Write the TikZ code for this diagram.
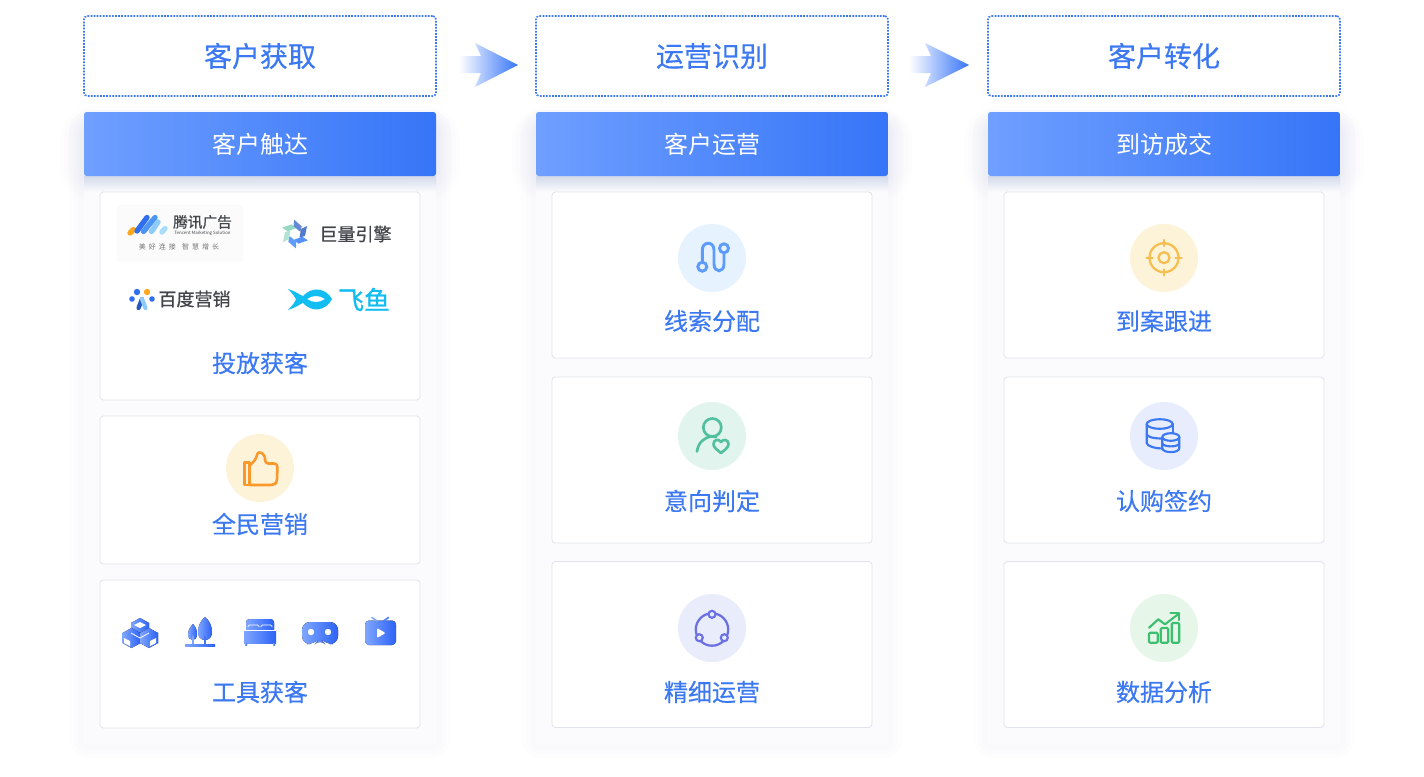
\documentclass[tikz,border=0pt]{standalone}
\usepackage{fontspec}
\setmainfont{Noto Sans CJK SC}
\newfontfamily\cjkmid[FakeBold=0.35]{Noto Sans CJK SC}
\newfontfamily\cjklogo[FakeBold=0.8]{Noto Sans CJK SC}
\usetikzlibrary{positioning}

\definecolor{mainblue}{HTML}{3B78F2}
\definecolor{headleft}{HTML}{6F9FFF}
\definecolor{headright}{HTML}{3675F8}
\definecolor{cardline}{HTML}{E1E3EB}
\definecolor{panelback}{HTML}{FBFBFD}
\definecolor{panelshade}{HTML}{D3DAEA}
\definecolor{softshadow}{HTML}{6A7FC8}
\definecolor{logodark}{HTML}{45464B}
\definecolor{fishblue}{HTML}{12BDF2}
\definecolor{toolleft}{HTML}{7FA6FF}
\definecolor{toolright}{HTML}{2C62F6}
\definecolor{logoorange}{HTML}{FBA81E}
\definecolor{logoblue}{HTML}{2F6EEF}
\definecolor{logomid}{HTML}{4D95F5}
\definecolor{logolight}{HTML}{8CCBFB}
\definecolor{logopale}{HTML}{A8DCFB}
\definecolor{thumbline}{HTML}{FA982A}
\definecolor{warmback}{HTML}{FDF3D9}
\definecolor{routeline}{HTML}{5F9BF9}
\definecolor{routeback}{HTML}{E6F3FF}
\definecolor{personline}{HTML}{52BF9E}
\definecolor{personback}{HTML}{E1F4EE}
\definecolor{ringline}{HTML}{6B70E2}
\definecolor{ringback}{HTML}{E9ECFB}
\definecolor{targetline}{HTML}{F5BE4F}
\definecolor{dbback}{HTML}{E7EDFD}
\definecolor{chartline}{HTML}{3CBF6E}
\definecolor{chartback}{HTML}{E6F7EA}

\tikzset{
  titlebox/.style={draw=mainblue, line width=1.2pt, dash pattern=on 1.3pt off 1pt, rounded corners=2.5pt,
    minimum width=264pt, minimum height=60pt, inner sep=0pt, text=mainblue, font=\cjkmid\fontsize{21pt}{24pt}\selectfont},
  headbox/.style={shade, left color=headleft, right color=headright, rounded corners=2pt,
    minimum width=264pt, minimum height=48pt, inner sep=0pt, text=white, font=\fontsize{18pt}{22pt}\selectfont},
  cardbox/.style={draw=cardline, fill=white, line width=0.6pt, rounded corners=2.5pt, minimum width=240pt, inner sep=0pt},
  cardtext/.style={text=mainblue, inner sep=0pt, font=\cjkmid\fontsize{18pt}{22pt}\selectfont},
  iconback/.style={circle, minimum size=51pt, inner sep=0pt},
  logotext/.style={text=logodark, inner sep=0pt, font=\cjklogo\fontsize{13.5pt}{16pt}\selectfont},
  tool/.style={shade, left color=toolleft, right color=toolright},
}

\begin{document}
\begin{tikzpicture}[x=0.75pt,y=-0.75pt]

\useasboundingbox (0,0) rectangle (1424,776);
\fill[white] (0,0) rectangle (1424,776);

% soft shadows and panels
\foreach \cx in {84,536,988} {
  \foreach \d in {5,10,15} {
    \fill[softshadow, opacity=0.012, rounded corners=\d+2] ({\cx-\d},{125-\d}) rectangle ({\cx+352+\d},{744+\d});
  }
  \foreach \d in {4,8,...,24} {
    \fill[softshadow, opacity=0.012, rounded corners=\d+2] ({\cx-\d},{130-\d}) rectangle ({\cx+352+\d},{176+\d});
  }
  \fill[panelback] (\cx,176) rectangle ({\cx+352},744);
  \shade[top color=panelshade, bottom color=panelback] (\cx,176) rectangle ({\cx+352},192);
}

% titles
\node (gain) [titlebox] at (260,56) {客户获取};
\node (identify) [titlebox] at (712,56) {运营识别};
\node (convert) [titlebox] at (1164,56) {客户转化};

% block arrows
\shade[left color=white, middle color=headleft!85!white, right color=headright]
  (459,56) -- (481,56) -- (475,43) -- (518,65) -- (475,87) -- (481,73) -- (459,73) -- cycle;
\shade[left color=white, middle color=headleft!85!white, right color=headright]
  (909,56) -- (931,56) -- (925,43) -- (969,65) -- (925,87) -- (931,73) -- (909,73) -- cycle;

% headers
\node (reach) [headbox] at (260,144) {\raisebox{-0.75pt}{客户触达}};
\node (operate) [headbox] at (712,144) {\raisebox{-0.75pt}{客户运营}};
\node (deal) [headbox] at (1164,144) {\raisebox{-0.75pt}{到访成交}};

% cards
\node (ad) [cardbox, minimum height=156pt] at (260,296) {};
\node (staff) [cardbox, minimum height=111pt] at (260,490) {};
\node (tools) [cardbox, minimum height=111pt] at (260,654) {};
\node (leads) [cardbox, minimum height=124.5pt] at (712,275) {};
\node (intent) [cardbox, minimum height=124.5pt] at (712,460) {};
\node (fine) [cardbox, minimum height=124.5pt] at (712,644.5) {};
\node (visit) [cardbox, minimum height=124.5pt] at (1164,275) {};
\node (sign) [cardbox, minimum height=124.5pt] at (1164,460) {};
\node (data) [cardbox, minimum height=124.5pt] at (1164,644.5) {};

% card labels
\node (adtext) [cardtext] at (260,363) {投放获客};
\node (stafftext) [cardtext] at (260,524) {全民营销};
\node (toolstext) [cardtext] at (260,692) {工具获客};
\node (leadstext) [cardtext] at (712,321) {线索分配};
\node (intenttext) [cardtext] at (712,501) {意向判定};
\node (finetext) [cardtext] at (712,692) {精细运营};
\node (visittext) [cardtext] at (1164,321) {到案跟进};
\node (signtext) [cardtext] at (1164,501) {认购签约};
\node (datatext) [cardtext] at (1164,692) {数据分析};

% round icon backgrounds
\node (thumbcircle) [iconback, fill=warmback] at (260,468) {};
\node (routecircle) [iconback, fill=routeback] at (712,258) {};
\node (personcircle) [iconback, fill=personback] at (712,436) {};
\node (ringcircle) [iconback, fill=ringback] at (712,628) {};
\node (targetcircle) [iconback, fill=warmback] at (1164,258) {};
\node (dbcircle) [iconback, fill=dbback] at (1164,436) {};
\node (chartcircle) [iconback, fill=chartback] at (1164,628) {};

% tencent logo
\fill[black!1.5] (117,205) rectangle (243,262);
\draw[line width=4pt, line cap=round, logoorange] (130,233) -- (133.5,229.5);
\draw[line width=4pt, line cap=round, logoblue] (137,231) -- (147,217.5);
\draw[line width=4pt, line cap=round, logomid] (143.5,231.5) -- (155,217.5);
\draw[line width=4pt, line cap=round, logolight] (151.5,231.5) -- (158,222);
\draw[line width=4pt, line cap=round, logopale] (162,232) -- (165,228.5);
\node (tencent) [logotext, font=\cjklogo\fontsize{11pt}{13pt}\selectfont] at (202.5,222) {腾讯广告};
\node (tencentsub) [logotext, font=\fontsize{3.3pt}{4pt}\selectfont] at (202.5,233) {Tencent Marketing Solution};
\node (tencentslogan) [logotext, text=black!55, font=\fontsize{5.2pt}{6pt}\selectfont] at (179,247) {美\ \ 好\ \ 连\ \ 接\ \ \ \ 智\ \ 慧\ \ 增\ \ 长};

% ocean engine logo
\foreach \a/\c in {30/personline!60!white, 90/personline!45!white, 150/routeline, 210/routeline!80!logoblue, 270/logoblue!80!black!80!white, 330/logoblue!70!gray!85!white} {
  \fill[\c, rotate around={\a:(295,234)}] (287,222) -- (297,224) -- (298.5,229.5) -- (290,228) -- cycle;
}
\node (engine) [logotext] at (355.5,234) {巨量引擎};

% baidu logo
\fill[logoblue] (137,292) circle (3.2);
\fill[logoorange] (147,292) circle (3.2);
\fill[logoblue] (132,299) circle (2.8);
\fill[logoblue] (152,299) circle (2.8);
\draw[line width=3.2pt, line cap=round, logoblue!80!black] (138.5,308) -- (142,299);
\draw[line width=3.2pt, line cap=round, logolight] (145.5,308) -- (142,299);
\node (baidu) [logotext] at (194.5,299) {百度营销};

% feiyu logo
\fill[fishblue, even odd rule] (288,289) .. controls (297,292) and (300,295) .. (303,296)
  .. controls (312,286) and (326,288) .. (332,299) .. controls (326,311) and (312,313) .. (303,303)
  .. controls (300,304) and (297,307) .. (288,310) .. controls (292,306) and (295,302) .. (296,299.5)
  .. controls (295,297) and (292,293) .. (288,289) -- cycle
  (307,299) .. controls (312,295) and (320,295) .. (325,299) .. controls (320,303) and (312,303) .. (307,299) -- cycle;
\node (feiyu) [logotext, text=fishblue, font=\cjklogo\fontsize{19.5pt}{22pt}\selectfont] at (364,299.5) {飞鱼};

% thumb
\begin{scope}[line width=1.9pt, line join=round]
\draw[thumbline] (244.5,462.5) rectangle (249.5,485);
\draw[thumbline, rounded corners=2.5] (249.5,485) -- (274,485) -- (277,482) -- (277.5,463.5) -- (265,463.5) -- (265,455) -- (258,451) -- (256,459) -- (249.5,466);
\end{scope}

% tool icons: cubes
\foreach \px/\py in {140/628,131.5/638,149/638} {
  \fill[tool] (\px,{\py-10}) -- ({\px+9},{\py-5}) -- ({\px+9},{\py+5}) -- (\px,{\py+10}) -- ({\px-9},{\py+5}) -- ({\px-9},{\py-5}) -- cycle;
}
\fill[white] (140,622) -- (146,625) -- (140,628) -- (134,625) -- cycle;
\fill[white] (124,638) -- (130,641) -- (130,646) -- (124,643) -- cycle;
\fill[white] (150,641) -- (156,638) -- (156,643) -- (150,646) -- cycle;
\draw[white, line width=0.6pt] (140,638) -- (149,633) (140,638) -- (131,633);

% tool icons: trees
\fill[tool] (205,617) .. controls (210,621) and (212,627) .. (212,632) .. controls (212,637) and (209,640) .. (205,640)
  .. controls (201,640) and (198,637) .. (198,632) .. controls (198,627) and (200,621) .. (205,617) -- cycle;
\fill[tool] (193,624) .. controls (196,627) and (197,631) .. (197,634) .. controls (197,638) and (195,640) .. (193,640)
  .. controls (190,640) and (188,638) .. (188,634) .. controls (188,631) and (190,627) .. (193,624) -- cycle;
\draw[toolleft, line width=1pt] (193,636) -- (193,645);
\draw[toolright!70!toolleft, line width=1pt] (205,636) -- (205,645);
\fill[tool] (185,644) rectangle (215,646.5);

% tool icons: bed
\fill[tool, rounded corners=2.5] (246,619) rectangle (274,633);
\fill[tool] (244,630) rectangle (276,643);
\fill[tool] (245,643) rectangle (247,645);
\fill[tool] (273,643) rectangle (275,645);
\draw[white, line width=0.5pt, rounded corners=1] (248,627) -- (248,625) -- (259,625) -- (259,627) (261,627) -- (261,625) -- (272,625) -- (272,627);
\draw[white, line width=0.5pt] (244,630) -- (276,630);

% tool icons: goggles
\fill[tool, rounded corners=6] (302,622) -- (338,622) -- (338,644) -- (325,644) -- (320,638.5) -- (315,644) -- (302,644) -- cycle;
\fill[white] (311,632) circle (3.2);
\fill[white] (328,632) circle (3.2);

% tool icons: tv
\fill[tool, rounded corners=3] (365,620.5) rectangle (396,645);
\draw[toolleft, line width=1.2pt, line cap=round] (372,617.5) -- (377,621);
\draw[toolright!60!toolleft, line width=1.2pt, line cap=round] (388.5,617.5) -- (383.5,621);
\fill[white, rounded corners=0.8] (377,628) -- (385.5,633) -- (377,638) -- cycle;

% route icon
\begin{scope}[line width=2.2pt]
\draw[routeline] (702.3,266.7) circle (4.5);
\draw[routeline] (724,248.3) circle (4.5);
\draw[routeline] (702.3,262) -- (702.3,250) .. controls (702.3,241) and (714,241) .. (714,250) -- (714,264)
  .. controls (714,273) and (724,273) .. (724,264) -- (724,253);
\end{scope}

% person icon
\begin{scope}[line width=2pt, line cap=round]
\draw[personline] (712.3,427.5) circle (9);
\draw[personline] (697,451.5) .. controls (698,443) and (704,437) .. (712,436.5) -- (716,437);
\draw[personline, line join=round] (721,453) .. controls (716,449) and (713.5,447) .. (713.5,444) .. controls (713.5,439.5) and (719,438.5) .. (721,442)
  .. controls (723,438.5) and (728.5,439.5) .. (728.5,444) .. controls (728.5,447) and (726,449) .. (721,453) -- cycle;
\end{scope}

% ring icon
\draw[ringline, line width=1.7pt] (712,629.5) circle (16.2);
\draw[ringline, line width=1.6pt, fill=ringback] (712,614.3) circle (3.5);
\draw[ringline, line width=1.6pt, fill=ringback] (699.3,637.7) circle (3.5);
\draw[ringline, line width=1.6pt, fill=ringback] (724.3,637.7) circle (3.5);

% target icon
\begin{scope}[line width=1.7pt, line cap=round]
\draw[targetline] (1164,257.7) circle (14.5);
\draw[targetline] (1164,257.7) circle (5.5);
\draw[targetline] (1164,240) -- (1164,246) (1164,269.5) -- (1164,275.5) (1146.5,257.7) -- (1152.5,257.7) (1175.5,257.7) -- (1181.5,257.7);
\end{scope}

% database icon
\begin{scope}[line width=1.6pt]
\draw[mainblue] (1159.7,424) ellipse (13 and 4.8);
\draw[mainblue] (1146.7,424) -- (1146.7,443) .. controls (1146.7,446) and (1155,448.5) .. (1162,448.5);
\draw[mainblue] (1172.7,424) -- (1172.7,434);
\draw[mainblue] (1146.7,434) .. controls (1146.7,437) and (1154,438.5) .. (1162,438.5);
\draw[mainblue, fill=dbback] (1162.3,437) -- (1162.3,448) .. controls (1162.3,453.5) and (1179.3,453.5) .. (1179.3,448) -- (1179.3,437);
\draw[mainblue, fill=dbback] (1170.8,437) ellipse (8.5 and 3.8);
\draw[mainblue] (1162.3,443) .. controls (1162.3,447.5) and (1179.3,447.5) .. (1179.3,443);
\end{scope}

% chart icon
\begin{scope}[line width=1.6pt, line join=round]
\draw[chartline, rounded corners=0.8] (1149,632.7) rectangle (1157.7,642.7);
\draw[chartline, rounded corners=0.8] (1160.7,628) rectangle (1168.3,642.7);
\draw[chartline, rounded corners=0.8] (1171.7,623) rectangle (1179.3,642.7);
\draw[chartline, line cap=round] (1149,627.7) -- (1158.3,619.3) -- (1165,624.3) -- (1179.3,613.3);
\draw[chartline, line cap=round] (1170.5,613) -- (1179.3,613) -- (1179.3,620);
\end{scope}

\end{tikzpicture}
\end{document}
